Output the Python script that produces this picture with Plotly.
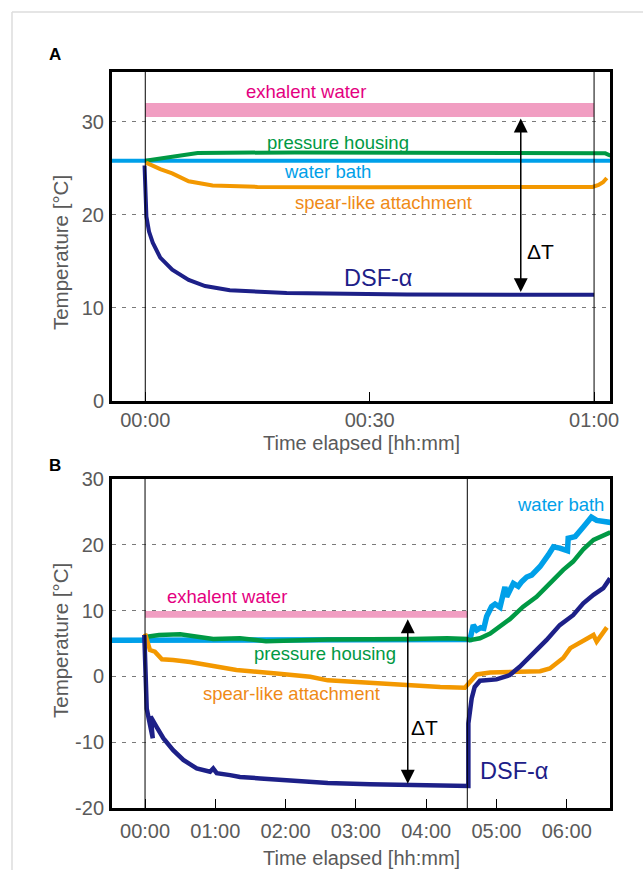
import plotly.graph_objects as go

# ---------------- Panel A data (minutes elapsed) ----------------
a_tick_vals = [0, 30, 60]
a_tick_text = ["00:00", "00:30", "01:00"]
a_y_vals = [0, 10, 20, 30]
a_y_text = ["0", "10", "20", "30"]

a_bath_t = [-4.5, 0, 30, 62.2]
a_bath_T = [25.8, 25.8, 25.8, 25.8]

a_housing_t = [0, 3, 7, 20, 40, 60, 61.5, 62.2]
a_housing_T = [25.8, 26.2, 26.65, 26.7, 26.7, 26.65, 26.6, 26.35]

a_spear_t = [0.1, 2, 3.6, 5.8, 9, 15, 30, 45, 59.8, 60.6, 61.2, 61.7]
a_spear_T = [25.6, 24.9, 24.45, 23.6, 23.15, 23.0, 22.95, 22.95, 23.0, 23.2, 23.5, 23.95]

a_dsf_t = [-0.1, 0.05, 0.15, 0.5, 1.0, 2.0, 3.6, 5.8, 8.0, 11.3, 18.9, 35, 60]
a_dsf_T = [25.3, 22.0, 19.8, 18.2, 17.0, 15.4, 14.1, 13.0, 12.35, 11.9, 11.6, 11.45, 11.4]

a_exh_t = [0, 60]
a_exh_low = [30.5, 30.5]
a_exh_high = [32.0, 32.0]

a_run = [0, 60]
a_dt_x = 50.2

# ---------------- Panel B data (hours elapsed) ----------------
b_tick_vals = [0, 1, 2, 3, 4, 5, 6]
b_tick_text = ["00:00", "01:00", "02:00", "03:00", "04:00", "05:00", "06:00"]
b_y_vals = [-20, -10, 0, 10, 20, 30]
b_y_text = ["-20", "-10", "0", "10", "20", "30"]

b_bath_t = [-0.5, 0, 1, 2, 3, 4, 4.6, 4.623, 4.67, 4.72, 4.775, 4.82, 4.86, 4.93, 4.98,
            5.05, 5.12, 5.145, 5.24, 5.31, 5.36, 5.43, 5.50, 5.62, 5.74, 5.81, 5.90,
            6.01, 6.02, 6.12, 6.235, 6.35, 6.425, 6.62]
b_bath_T = [5.5, 5.5, 5.5, 5.5, 5.5, 5.5, 5.5, 5.6, 7.8, 7.05, 7.4, 7.3, 9.1, 10.6, 11.0,
            10.5, 13.6, 12.1, 14.15, 13.7, 14.4, 15.1, 15.4, 16.7, 18.5, 19.7, 19.5,
            19.1, 21.0, 21.25, 22.7, 24.2, 23.7, 23.4]

b_housing_t = [0, 0.2, 0.5, 0.735, 0.97, 1.35, 1.72, 2.6, 3.2, 3.8, 4.3, 4.585, 4.62,
               4.765, 4.91, 5.05, 5.19, 5.38, 5.57, 5.76, 5.95, 6.09, 6.235, 6.38, 6.52, 6.62]
b_housing_T = [6.0, 6.3, 6.4, 6.0, 5.7, 5.8, 5.35, 5.6, 5.6, 5.7, 5.8, 5.7, 5.5,
               5.8, 6.5, 7.55, 8.7, 10.6, 12.1, 14.15, 16.2, 17.45, 19.3, 20.75, 21.5, 21.9]

b_spear_t = [0, 0.07, 0.14, 0.24, 0.4, 0.64, 0.97, 1.30, 1.87, 2.35, 2.6, 3.2, 3.77,
             4.2, 4.55, 4.62, 4.72, 4.91, 5.3, 5.62, 5.76, 5.86, 5.95, 6.05, 6.235,
             6.38, 6.425, 6.57]
b_spear_T = [6.5, 4.0, 3.75, 2.6, 2.5, 2.2, 1.57, 0.96, 0.45, -0.05, -0.6, -1.0, -1.37,
             -1.6, -1.73, -0.8, 0.3, 0.6, 0.7, 0.8, 1.2, 2.0, 2.8, 4.3, 5.5,
             6.3, 5.3, 7.45]

b_dsf_t = [-0.01, 0.024, 0.11, 0.08, 0.166, 0.26, 0.40, 0.545, 0.735, 0.925, 0.97, 1.02,
           1.21, 1.35, 1.64, 2.11, 2.6, 3.2, 3.8, 4.3, 4.6, 4.6, 4.647, 4.69, 4.765,
           5.0, 5.19, 5.33, 5.52, 5.71, 5.9, 6.09, 6.235, 6.38, 6.52, 6.615]
b_dsf_T = [6.3, -4.9, -9.4, -6.1, -7.7, -9.4, -11.2, -12.7, -14.0, -14.5, -14.0, -14.7,
           -15.0, -15.3, -15.5, -15.9, -16.2, -16.4, -16.5, -16.6, -16.65, -7.15, -3.35,
           -1.6, -0.66, -0.45, 0.2, 1.46, 3.5, 5.5, 7.8, 9.3, 11.1, 12.4, 13.4, 14.9]

b_exh_t = [0, 4.585]
b_exh_low = [8.9, 8.9]
b_exh_high = [9.95, 9.95]

b_run = [0, 4.585]
b_dt_x = 3.738

# ---------------- styling ----------------
NAVY = "#1D2088"
GREEN = "#009944"
BLUE = "#00A0E9"
ORANGE = "#F39800"
PINK = "#F19EC2"
MAGENTA = "#E4007F"
ORANGE_TXT = "#EF8A17"
GREY = "#5a5a5a"
FONT = "Liberation Sans, Arial, Helvetica, sans-serif"

fig = go.Figure()


def add_panel(xa, ya, exh_t, lo, hi, bath_t, bath_T, hous_t, hous_T, sp_t, sp_T,
              dsf_t, dsf_T, bath_w, lw):
    fig.add_trace(go.Scatter(x=exh_t, y=lo, mode="lines", line=dict(width=0, color=PINK),
                             xaxis=xa, yaxis=ya, showlegend=False, hoverinfo="skip"))
    fig.add_trace(go.Scatter(x=exh_t, y=hi, mode="lines", line=dict(width=0, color=PINK),
                             fill="tonexty", fillcolor=PINK,
                             xaxis=xa, yaxis=ya, showlegend=False, hoverinfo="skip"))
    fig.add_trace(go.Scatter(x=bath_t, y=bath_T, mode="lines", line=dict(color=BLUE, width=bath_w),
                             xaxis=xa, yaxis=ya, showlegend=False, name="water bath"))
    fig.add_trace(go.Scatter(x=hous_t, y=hous_T, mode="lines", line=dict(color=GREEN, width=lw),
                             xaxis=xa, yaxis=ya, showlegend=False, name="pressure housing"))
    fig.add_trace(go.Scatter(x=sp_t, y=sp_T, mode="lines", line=dict(color=ORANGE, width=lw),
                             xaxis=xa, yaxis=ya, showlegend=False, name="spear-like attachment"))
    fig.add_trace(go.Scatter(x=dsf_t, y=dsf_T, mode="lines", line=dict(color=NAVY, width=lw),
                             xaxis=xa, yaxis=ya, showlegend=False, name="DSF-α"))


add_panel("x", "y", a_exh_t, a_exh_low, a_exh_high, a_bath_t, a_bath_T,
          a_housing_t, a_housing_T, a_spear_t, a_spear_T, a_dsf_t, a_dsf_T, 4, 4)
add_panel("x2", "y2", b_exh_t, b_exh_low, b_exh_high, b_bath_t, b_bath_T,
          b_housing_t, b_housing_T, b_spear_t, b_spear_T, b_dsf_t, b_dsf_T, 5.5, 4.5)

# vertical run markers
shapes = []
for xv in a_run:
    shapes.append(dict(type="line", xref="x", yref="y domain", x0=xv, x1=xv, y0=0, y1=1,
                       line=dict(color="black", width=1)))
for xv in b_run:
    shapes.append(dict(type="line", xref="x2", yref="y2 domain", x0=xv, x1=xv, y0=0, y1=1,
                       line=dict(color="black", width=1)))
# light page border (top + left)
shapes.append(dict(type="line", xref="paper", yref="paper", x0=-0.2008, x1=1.07,
                   y0=1.0815, y1=1.0815, line=dict(color="#dcdcdc", width=1.5)))
shapes.append(dict(type="line", xref="paper", yref="paper", x0=-0.2008, x1=-0.2008,
                   y0=1.0815, y1=-0.09, line=dict(color="#dcdcdc", width=1.5)))

ann = []


def label(text, x, y, color, size, xa, ya):
    ann.append(dict(text=text, x=x, y=y, xref=xa, yref=ya, showarrow=False,
                    font=dict(family=FONT, size=size, color=color),
                    xanchor="center", yanchor="middle"))


# Panel A labels
label("exhalent water", 21.5, 33.2, MAGENTA, 18.5, "x", "y")
label("pressure housing", 25.8, 27.75, GREEN, 18.5, "x", "y")
label("water bath", 24.35, 24.65, BLUE, 18.5, "x", "y")
label("spear-like attachment", 31.8, 21.3, ORANGE_TXT, 18.5, "x", "y")
label("ΔT", 52.9, 16.1, "black", 21, "x", "y")
label("DSF-α", 31.1, 13.2, NAVY, 23.5, "x", "y")

# Panel B labels
label("exhalent water", 1.166, 12.1, MAGENTA, 18.5, "x2", "y2")
label("pressure housing", 2.566, 3.5, GREEN, 18.5, "x2", "y2")
label("water bath", 5.915, 26.2, BLUE, 18.5, "x2", "y2")
label("spear-like attachment", 2.084, -2.6, ORANGE_TXT, 18.5, "x2", "y2")
label("ΔT", 3.97, -7.8, "black", 21, "x2", "y2")
label("DSF-α", 5.246, -14.4, NAVY, 23.5, "x2", "y2")

# ΔT arrows
ann.append(dict(x=a_dt_x, y=a_dsf_T[-1] + 0.3, ax=a_dt_x, ay=a_exh_low[0], xref="x", yref="y",
                axref="x", ayref="y", text="", showarrow=True, arrowhead=2, startarrowhead=2,
                arrowside="end+start", arrowwidth=1.5, arrowsize=1.85, startarrowsize=1.85,
                arrowcolor="black", standoff=0, startstandoff=0))
ann.append(dict(x=b_dt_x, y=-16.3, ax=b_dt_x, ay=b_exh_low[0], xref="x2", yref="y2",
                axref="x2", ayref="y2", text="", showarrow=True, arrowhead=2, startarrowhead=2,
                arrowside="end+start", arrowwidth=1.5, arrowsize=1.85, startarrowsize=1.85,
                arrowcolor="black", standoff=0, startstandoff=0))

# panel letters
for txt, yy in (("A", 1.0235), ("B", 0.466)):
    ann.append(dict(text="<b>%s</b>" % txt, x=-0.1135, y=yy, xref="paper", yref="paper",
                    showarrow=False, font=dict(family=FONT, size=17, color="black"),
                    xanchor="center", yanchor="middle"))

# axis titles
for yy in (0.754, 0.2269):
    ann.append(dict(text="Temperature [°C]", x=-0.1044, y=yy, xref="paper", yref="paper",
                    showarrow=False, textangle=-90,
                    font=dict(family=FONT, size=20.5, color=GREY),
                    xanchor="center", yanchor="middle"))
for yy in (0.496, -0.0679):
    ann.append(dict(text="Time elapsed [hh:mm]", x=0.502, y=yy, xref="paper", yref="paper",
                    showarrow=False, font=dict(family=FONT, size=20, color=GREY),
                    xanchor="center", yanchor="middle"))

tickfont = dict(family=FONT, size=20, color=GREY)
xcommon = dict(showline=True, linewidth=3, linecolor="black", mirror=True, showgrid=False,
               zeroline=False, ticks="inside", ticklen=9, tickwidth=1, tickcolor="black",
               tickfont=tickfont)
ycommon = dict(showline=True, linewidth=3, linecolor="black", mirror=True, showgrid=True,
               gridcolor="#7a7a7a", gridwidth=1.2, griddash="4px,6px", zeroline=False,
               ticks="", tickfont=tickfont, ticklabelstandoff=1)

fig.update_layout(
    width=643, height=870,
    margin=dict(l=112, r=33, t=72, b=62),
    paper_bgcolor="white", plot_bgcolor="white",
    showlegend=False,
    xaxis=dict(domain=[0, 1], anchor="y", range=[-4.45, 62.13],
               tickvals=a_tick_vals, ticktext=a_tick_text, ticklabelstandoff=-1, **xcommon),
    yaxis=dict(domain=[0.553, 1], anchor="x", range=[0, 35.34],
               tickvals=a_y_vals, ticktext=a_y_text, **ycommon),
    xaxis2=dict(domain=[0, 1], anchor="y2", range=[-0.47, 6.615],
                tickvals=b_tick_vals, ticktext=b_tick_text, ticklabelstandoff=3, **xcommon),
    yaxis2=dict(domain=[0, 0.447], anchor="x2", range=[-20, 30],
                tickvals=b_y_vals, ticktext=b_y_text, **ycommon),
    shapes=shapes,
    annotations=ann,
)

fig.write_html("out.html", config={"displayModeBar": False},
               post_script="document.body.style.margin='0';document.body.style.padding='0';")
